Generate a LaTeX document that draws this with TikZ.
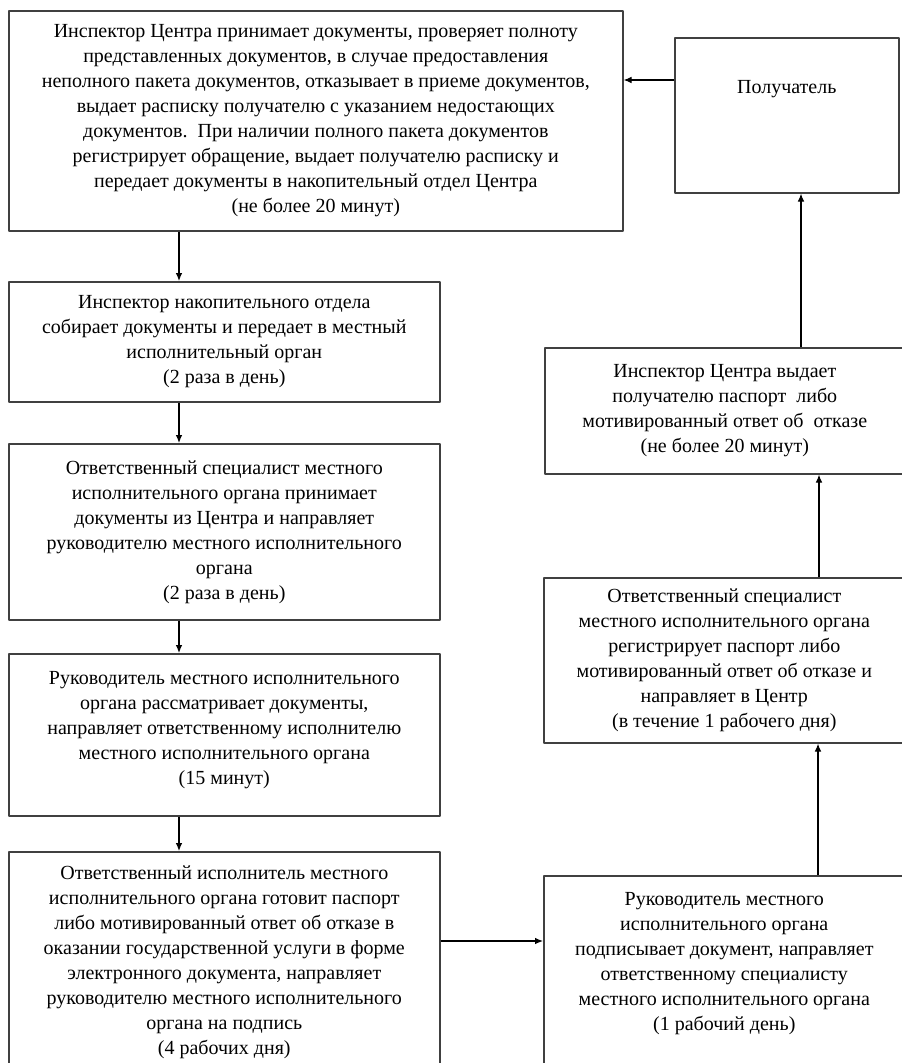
\documentclass[tikz,border=0pt]{standalone}
\usepackage{fontspec}
\setmainfont{Liberation Serif}
\usetikzlibrary{arrows.meta}
\tikzset{
    box/.style={draw=black!75,line width=1.2pt,anchor=north west,align=center,inner sep=0pt,
        font=\fontsize{15}{18.75}\selectfont},
    sz/.style 2 args={minimum width=#1*0.75pt,minimum height=#2*0.75pt},
    arr/.style={-{Latex[length=6pt,width=5pt]},line width=0.9pt}
}

\begin{document}
\begin{tikzpicture}[x=0.75pt,y=-0.75pt,line join=round]
    \useasboundingbox (0,0) rectangle (901,1063);
    \node[box,sz={614}{220}] (priem) at (8,10) {Инспектор Центра принимает документы, проверяет полноту\\
        представленных документов, в случае предоставления\\
        неполного пакета документов, отказывает в приеме документов,\\
        выдает расписку получателю с указанием недостающих\\
        документов.\ \ При наличии полного пакета документов\\
        регистрирует обращение, выдает получателю расписку и\\
        передает документы в накопительный отдел Центра\\
        (не более 20 минут)};
    \node[box,sz={431}{120}] (nakop) at (8,281) {Инспектор накопительного отдела\\
        собирает документы и передает в местный\\
        исполнительный орган\\
        (2 раза в день)};
    \node[box,sz={431}{176}] (prinyat) at (8,443) {Ответственный специалист местного\\
        исполнительного органа принимает\\
        документы из Центра и направляет\\
        руководителю местного исполнительного\\
        органа\\
        (2 раза в день)};
    \node[box,sz={431}{162},text depth=10pt] (rassm) at (8,653) {Руководитель местного исполнительного\\
        органа рассматривает документы,\\
        направляет ответственному исполнителю\\
        местного исполнительного органа\\
        (15 минут)};
    \node[box,sz={431}{220}] (gotov) at (8,851) {Ответственный исполнитель местного\\
        исполнительного органа готовит паспорт\\
        либо мотивированный ответ об отказе в\\
        оказании государственной услуги в форме\\
        электронного документа, направляет\\
        руководителю местного исполнительного\\
        органа на подпись\\
        (4 рабочих дня)};
    \node[box,sz={224}{155},text height=11pt,text depth=43pt] (pol) at (674,37) {Получатель};
    \node[box,sz={360}{126}] (vydacha) at (544,347) {Инспектор Центра выдает\\
        получателю паспорт\ \ либо\\
        мотивированный ответ об\ \ отказе\\
        (не более 20 минут)};
    \node[box,sz={361}{165}] (registr) at (543,577) {Ответственный специалист\\
        местного исполнительного органа\\
        регистрирует паспорт либо\\
        мотивированный ответ об отказе и\\
        направляет в Центр\\
        (в течение 1 рабочего дня)};
    \node[box,sz={361}{200},text depth=22pt] (podpis) at (543,875) {Руководитель местного\\
        исполнительного органа\\
        подписывает документ, направляет\\
        ответственному специалисту\\
        местного исполнительного органа\\
        (1 рабочий день)};
    \foreach \a/\b in {priem/nakop,nakop/prinyat,prinyat/rassm,rassm/gotov}{%
        \draw[arr] (\a.south -| 179,0) -- (\b.north -| 179,0);
    }%
    \draw[arr] (gotov.east |- 0,941) -- (podpis.west |- 0,941);
    \draw[arr] (podpis.north -| 818,0) -- (registr.south -| 818,0);
    \draw[arr] (registr.north -| 819,0) -- (vydacha.south -| 819,0);
    \draw[arr] (vydacha.north -| 801,0) -- (pol.south -| 801,0);
    \draw[arr] (pol.west |- 0,80) -- (priem.east |- 0,80);
\end{tikzpicture}
\end{document}
